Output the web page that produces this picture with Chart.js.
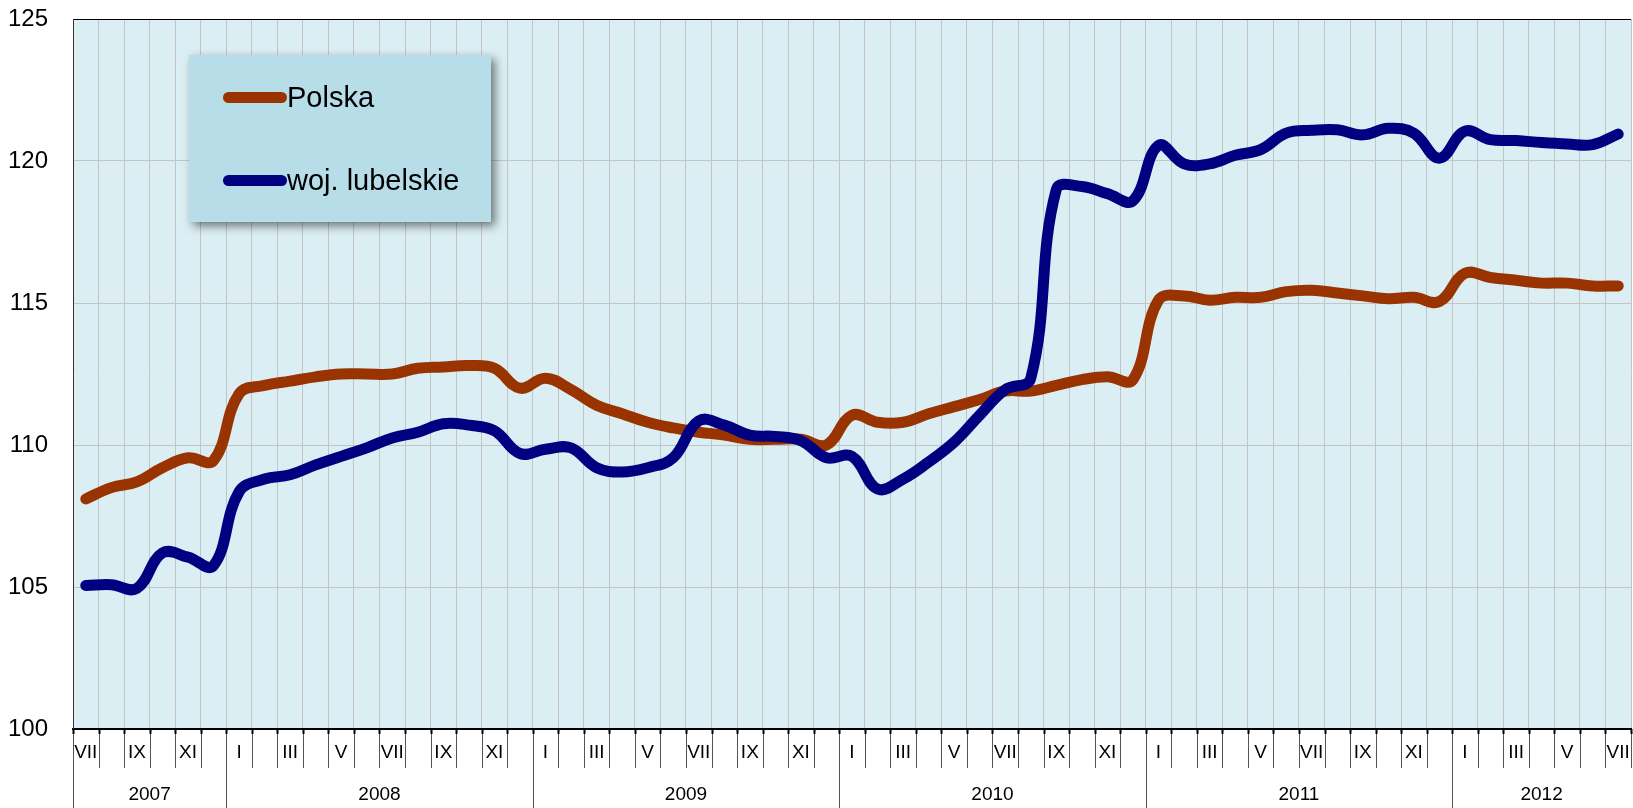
<!DOCTYPE html>
<html>
<head>
<meta charset="utf-8">
<script src="https://cdn.jsdelivr.net/npm/chart.js@4.4.0/dist/chart.umd.min.js"></script>
<style>
    body { margin: 0; background: #fff; }
    #wrap { position: relative; width: 1633px; height: 808px; }
    #legend {
        position: absolute; left: 189px; top: 55px; width: 302px; height: 167px;
        background: #b7dde8; box-shadow: 4px 4px 9px rgba(0, 0, 0, 0.5);
        font-family: "Liberation Sans", Arial, sans-serif; font-size: 29px; color: #000;
    }
    .row { position: absolute; left: 34px; display: flex; align-items: center; height: 30px; }
    .swatch { display: inline-block; width: 64px; height: 11px; border-radius: 6px; }
</style>
</head>
<body>
<div id="wrap">
    <canvas id="chart"></canvas>
    <div id="legend">
        <div class="row" style="top:27px"><span class="swatch" style="background:#993300"></span>Polska</div>
        <div class="row" style="top:110px"><span class="swatch" style="background:#000080"></span>woj. lubelskie</div>
    </div>
</div>
<script>
const months = [
    'VII', 'VIII', 'IX', 'X', 'XI', 'XII',
    'I', 'II', 'III', 'IV', 'V', 'VI', 'VII', 'VIII', 'IX', 'X', 'XI', 'XII',
    'I', 'II', 'III', 'IV', 'V', 'VI', 'VII', 'VIII', 'IX', 'X', 'XI', 'XII',
    'I', 'II', 'III', 'IV', 'V', 'VI', 'VII', 'VIII', 'IX', 'X', 'XI', 'XII',
    'I', 'II', 'III', 'IV', 'V', 'VI', 'VII', 'VIII', 'IX', 'X', 'XI', 'XII',
    'I', 'II', 'III', 'IV', 'V', 'VI', 'VII'
];
const shownMonths = ['I', 'III', 'V', 'VII', 'IX', 'XI'];
const years = ['2007', '2008', '2009', '2010', '2011', '2012'];

const polska = [
    108.1, 108.5, 108.7, 109.2, 109.55, 109.45,
    111.8, 112.1, 112.25, 112.4, 112.5, 112.5, 112.5, 112.7, 112.75, 112.8, 112.7, 112.0,
    112.35, 111.95, 111.4, 111.1, 110.8, 110.6, 110.45, 110.35, 110.2, 110.2, 110.2, 110.0,
    111.05, 110.8, 110.8, 111.1, 111.35, 111.6, 111.9, 111.9, 112.1, 112.3, 112.4, 112.3,
    115.1, 115.25, 115.1, 115.2, 115.2, 115.4, 115.45, 115.35, 115.25, 115.15, 115.2, 115.05,
    116.05, 115.9, 115.8, 115.7, 115.7, 115.6, 115.6
];
const lubelskie = [
    105.05, 105.08, 104.95, 106.2, 106.05, 105.75,
    108.35, 108.8, 108.95, 109.3, 109.6, 109.9, 110.25, 110.45, 110.75, 110.7, 110.5, 109.7,
    109.85, 109.9, 109.2, 109.05, 109.2, 109.55, 110.85, 110.7, 110.35, 110.3, 110.15, 109.55,
    109.6, 108.45, 108.8, 109.4, 110.1, 111.05, 111.95, 112.35, 119.0, 119.1, 118.85, 118.6,
    120.55, 119.9, 119.9, 120.2, 120.4, 120.98, 121.08, 121.1, 120.92, 121.15, 120.98, 120.1,
    121.05, 120.75, 120.72, 120.65, 120.6, 120.58, 120.95
];

const fontFamily = '"Liberation Sans", Arial, sans-serif';

// plot background, month ticks under the axis and year labels
const frame = {
    id: 'frame',
    beforeDraw(chart) {
        const { ctx, chartArea: a } = chart;
        ctx.save();
        ctx.fillStyle = '#daeef3';
        ctx.fillRect(a.left, a.top, a.right - a.left, a.bottom - a.top);
        ctx.restore();
    },
    afterDraw(chart) {
        const { ctx, chartArea: a } = chart;
        const x = chart.scales.x;
        const half = (x.getPixelForValue(1) - x.getPixelForValue(0)) / 2;
        ctx.save();
        const starts = [];
        for (let k = 0; k <= months.length; k++) {
            const edge = k < months.length ? x.getPixelForValue(k) - half : x.getPixelForValue(k - 1) + half;
            const px = Math.round(edge) + 0.5;
            const isYear = k === 0 || months[k] === 'I';
            if (isYear) starts.push(k);
            ctx.lineWidth = 1;
            ctx.strokeStyle = '#555';
            ctx.beginPath();
            ctx.moveTo(px, a.bottom);
            ctx.lineTo(px, isYear ? chart.height : a.bottom + 39);
            ctx.stroke();
            ctx.strokeStyle = '#000';
            ctx.lineWidth = 2;
            ctx.beginPath();
            ctx.moveTo(px, a.bottom);
            ctx.lineTo(px, a.bottom + 5);
            ctx.stroke();
        }
        ctx.fillStyle = '#000';
        ctx.font = '19px ' + fontFamily;
        ctx.textAlign = 'center';
        ctx.textBaseline = 'middle';
        starts.push(months.length);
        years.forEach((yr, i) => {
            const s = starts[i], e = starts[i + 1] - 1;
            const cx = (x.getPixelForValue(s) + x.getPixelForValue(e)) / 2;
            ctx.fillText(yr, cx, 795);
        });
        ctx.restore();
    }
};

const ctx = document.getElementById('chart').getContext('2d');
new Chart(ctx, {
    type: 'line',
    data: {
        labels: months,
        datasets: [{
            label: 'Polska',
            data: polska,
            borderColor: '#993300',
            borderWidth: 11,
            borderCapStyle: 'round',
            borderJoinStyle: 'round',
            pointRadius: 0,
            tension: 0.4,
            fill: false,
            order: 1
        }, {
            label: 'woj. lubelskie',
            data: lubelskie,
            borderColor: '#000080',
            borderWidth: 11,
            borderCapStyle: 'round',
            borderJoinStyle: 'round',
            pointRadius: 0,
            tension: 0.4,
            fill: false,
            order: 0
        }]
    },
    options: {
        responsive: true,
        maintainAspectRatio: false,
        animation: false,
        layout: { padding: { top: 19, right: 2, left: 0, bottom: 0 } },
        plugins: { legend: { display: false }, tooltip: { enabled: false } },
        scales: {
            x: {
                offset: true,
                grid: { offset: true, color: '#c4c4c4', drawTicks: false },
                border: { display: true, color: '#000', width: 2 },
                ticks: {
                    autoSkip: false, maxRotation: 0, padding: 12, color: '#000',
                    font: { family: fontFamily, size: 19 },
                    callback: (v, i) => shownMonths.includes(months[i]) ? months[i] : ''
                },
                afterFit: s => { s.height = 79; s.paddingLeft = 0; s.paddingRight = 0; }
            },
            y: {
                min: 100, max: 125,
                ticks: { stepSize: 5, padding: 25, color: '#000', font: { family: fontFamily, size: 24 } },
                grid: {
                    drawTicks: false,
                    color: c => c.tick && c.tick.value === 125 ? '#000' : '#c4c4c4'
                },
                border: { display: true, color: '#333', width: 1 },
                afterFit: s => { s.width = 73; s.paddingTop = 0; s.paddingBottom = 0; }
            }
        }
    },
    plugins: [frame]
});
</script>
</body>
</html>
